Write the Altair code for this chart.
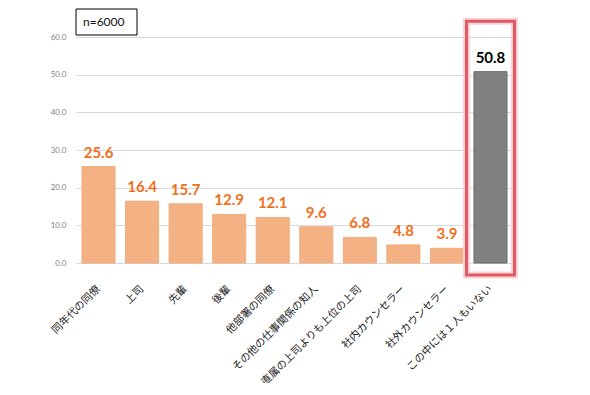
import altair as alt
import pandas as pd

categories = ["同年代の同僚", "上司", "先輩", "後輩", "他部署の同僚",
              "その他の仕事関係の知人", "直属の上司よりも上位の上司",
              "社内カウンセラー", "社外カウンセラー", "この中には１人もいない"]
values = [25.6, 16.4, 15.7, 12.9, 12.1, 9.6, 6.8, 4.8, 3.9, 50.8]
bar_colors = ["#f4b183"] * 9 + ["#808080"]
bar_strokes = ["#f0ab7c"] * 9 + ["#6a6a6a"]
text_colors = ["#f07021"] * 9 + ["#000000"]
y_ticks = [0, 10, 20, 30, 40, 50, 60]
note_text = "n=6000"

df = pd.DataFrame({"cat": categories, "val": values, "fillc": bar_colors,
                   "strokec": bar_strokes, "textc": text_colors})

x_scale = alt.Scale(domain=categories, paddingInner=0.242, paddingOuter=0.138)
y_scale = alt.Scale(domain=[0, 60], nice=False)

x_axis = alt.Axis(labelAngle=-45, labelFontSize=10.5, labelColor="#222222",
                  labelFont="Noto Sans CJK JP", ticks=False, domain=False,
                  labelPadding=24, labelOffset=0, labelAlign="right",
                  labelBaseline="middle", labelLimit=300, labelOverlap=False)
y_axis = alt.Axis(values=y_ticks, format=".1f", ticks=False, domain=False,
                  labelFontSize=8, labelColor="#7f7f7f", labelPadding=10,
                  labelOverlap=False, labelFont="Lato", gridColor="#d9d9d9")


def xe():
    return alt.X("cat:N", sort=categories, scale=x_scale, title=None, axis=x_axis)


def ye(field):
    return alt.Y(field, scale=y_scale, title=None, axis=y_axis)


bars = alt.Chart(df).mark_bar().encode(
    x=xe(), y=ye("val:Q"),
    color=alt.Color("fillc:N", scale=None),
    stroke=alt.Stroke("strokec:N", scale=None),
)

labels = alt.Chart(df).mark_text(dy=-14, fontSize=15, fontWeight="bold", font="Lato").encode(
    x=xe(), y=ye("val:Q"),
    text=alt.Text("val:Q", format=".1f"),
    color=alt.Color("textc:N", scale=None),
)

box_df = pd.DataFrame({"cat": [categories[-1]], "lo": [-3.2], "hi": [64.2]})
glow = alt.Chart(box_df).mark_bar(size=48, fill="transparent", stroke="#fbd3d6",
                                  strokeWidth=7).encode(
    x=xe(), y=ye("lo:Q"), y2="hi:Q")
box = alt.Chart(box_df).mark_bar(size=48, fill="transparent", stroke="#e05a66",
                                 strokeWidth=3).encode(
    x=xe(), y=ye("lo:Q"), y2="hi:Q")

note_df = pd.DataFrame({"t": [note_text]})
note_box = alt.Chart(note_df).mark_rect(fill="white", stroke="#000000", strokeWidth=1).encode(
    x=alt.value(0), x2=alt.value(61), y=alt.value(-28), y2=alt.value(-2))
note = alt.Chart(note_df).mark_text(align="left", baseline="middle", fontSize=12,
                                    font="Lato", color="#111111").encode(
    x=alt.value(7), y=alt.value(-15), text="t:N")

chart = alt.layer(bars, labels, glow, box, note_box, note).properties(
    width=437, height=226,
    autosize=alt.AutoSizeParams(type="none"),
    padding={"left": 68, "top": 29, "right": 60, "bottom": 120},
    background="white",
).configure_view(stroke=None)

chart.save("out.html", embed_options={"renderer": "svg", "actions": False})
